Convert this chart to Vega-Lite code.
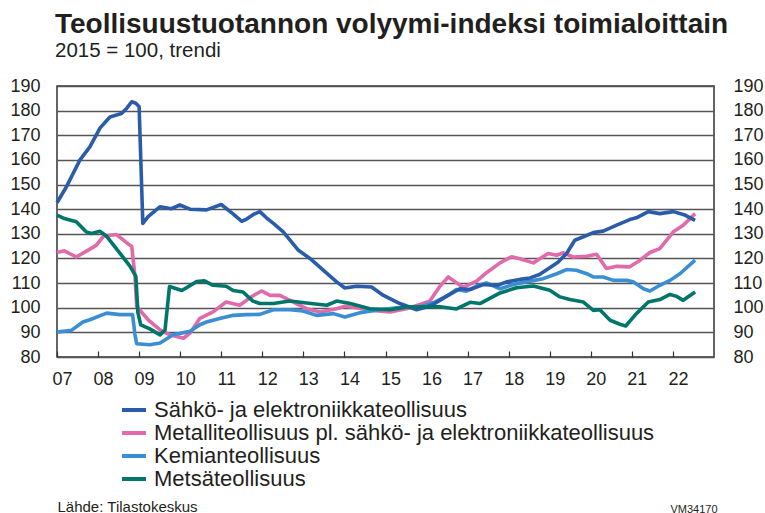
{
  "$schema": "https://vega.github.io/schema/vega-lite/v6.json",
  "width": 657,
  "height": 271,
  "autosize": {"type": "none"},
  "padding": {"left": 57, "top": 86, "right": 51, "bottom": 156},
  "background": "white",
  "title": {
    "text": "Teollisuustuotannon volyymi-indeksi toimialoittain",
    "subtitle": "2015 = 100, trendi",
    "anchor": "start",
    "frame": "group",
    "font": "Liberation Sans",
    "fontSize": 28,
    "fontWeight": "bold",
    "color": "#231f20",
    "subtitleFont": "Liberation Sans",
    "subtitleFontSize": 20.5,
    "subtitleColor": "#231f20",
    "subtitlePadding": 2,
    "offset": 16,
    "dx": -2
  },
  "data": {
    "values": [
      {"s": "Metalliteollisuus pl. sähkö- ja elektroniikkateollisuus", "t": 2007.0, "v": 122.4},
      {"s": "Metalliteollisuus pl. sähkö- ja elektroniikkateollisuus", "t": 2007.18, "v": 123.1},
      {"s": "Metalliteollisuus pl. sähkö- ja elektroniikkateollisuus", "t": 2007.47, "v": 120.6},
      {"s": "Metalliteollisuus pl. sähkö- ja elektroniikkateollisuus", "t": 2007.75, "v": 123.3},
      {"s": "Metalliteollisuus pl. sähkö- ja elektroniikkateollisuus", "t": 2007.96, "v": 125.4},
      {"s": "Metalliteollisuus pl. sähkö- ja elektroniikkateollisuus", "t": 2008.13, "v": 129.0},
      {"s": "Metalliteollisuus pl. sähkö- ja elektroniikkateollisuus", "t": 2008.45, "v": 129.7},
      {"s": "Metalliteollisuus pl. sähkö- ja elektroniikkateollisuus", "t": 2008.7, "v": 126.3},
      {"s": "Metalliteollisuus pl. sähkö- ja elektroniikkateollisuus", "t": 2008.82, "v": 124.9},
      {"s": "Metalliteollisuus pl. sähkö- ja elektroniikkateollisuus", "t": 2008.9, "v": 112.7},
      {"s": "Metalliteollisuus pl. sähkö- ja elektroniikkateollisuus", "t": 2008.94, "v": 100.5},
      {"s": "Metalliteollisuus pl. sähkö- ja elektroniikkateollisuus", "t": 2009.22, "v": 95.1},
      {"s": "Metalliteollisuus pl. sähkö- ja elektroniikkateollisuus", "t": 2009.51, "v": 91.0},
      {"s": "Metalliteollisuus pl. sähkö- ja elektroniikkateollisuus", "t": 2009.75, "v": 89.0},
      {"s": "Metalliteollisuus pl. sähkö- ja elektroniikkateollisuus", "t": 2010.08, "v": 87.6},
      {"s": "Metalliteollisuus pl. sähkö- ja elektroniikkateollisuus", "t": 2010.24, "v": 89.7},
      {"s": "Metalliteollisuus pl. sähkö- ja elektroniikkateollisuus", "t": 2010.48, "v": 95.7},
      {"s": "Metalliteollisuus pl. sähkö- ja elektroniikkateollisuus", "t": 2010.8, "v": 98.3},
      {"s": "Metalliteollisuus pl. sähkö- ja elektroniikkateollisuus", "t": 2011.12, "v": 102.3},
      {"s": "Metalliteollisuus pl. sähkö- ja elektroniikkateollisuus", "t": 2011.45, "v": 101.0},
      {"s": "Metalliteollisuus pl. sähkö- ja elektroniikkateollisuus", "t": 2011.73, "v": 104.4},
      {"s": "Metalliteollisuus pl. sähkö- ja elektroniikkateollisuus", "t": 2011.98, "v": 106.8},
      {"s": "Metalliteollisuus pl. sähkö- ja elektroniikkateollisuus", "t": 2012.19, "v": 105.0},
      {"s": "Metalliteollisuus pl. sähkö- ja elektroniikkateollisuus", "t": 2012.43, "v": 105.0},
      {"s": "Metalliteollisuus pl. sähkö- ja elektroniikkateollisuus", "t": 2012.67, "v": 103.0},
      {"s": "Metalliteollisuus pl. sähkö- ja elektroniikkateollisuus", "t": 2013.08, "v": 99.6},
      {"s": "Metalliteollisuus pl. sähkö- ja elektroniikkateollisuus", "t": 2013.4, "v": 98.3},
      {"s": "Metalliteollisuus pl. sähkö- ja elektroniikkateollisuus", "t": 2013.81, "v": 99.6},
      {"s": "Metalliteollisuus pl. sähkö- ja elektroniikkateollisuus", "t": 2014.01, "v": 100.6},
      {"s": "Metalliteollisuus pl. sähkö- ja elektroniikkateollisuus", "t": 2014.46, "v": 99.6},
      {"s": "Metalliteollisuus pl. sähkö- ja elektroniikkateollisuus", "t": 2014.7, "v": 98.9},
      {"s": "Metalliteollisuus pl. sähkö- ja elektroniikkateollisuus", "t": 2015.11, "v": 98.3},
      {"s": "Metalliteollisuus pl. sähkö- ja elektroniikkateollisuus", "t": 2015.51, "v": 99.6},
      {"s": "Metalliteollisuus pl. sähkö- ja elektroniikkateollisuus", "t": 2015.84, "v": 101.3},
      {"s": "Metalliteollisuus pl. sähkö- ja elektroniikkateollisuus", "t": 2016.08, "v": 102.7},
      {"s": "Metalliteollisuus pl. sähkö- ja elektroniikkateollisuus", "t": 2016.33, "v": 108.8},
      {"s": "Metalliteollisuus pl. sähkö- ja elektroniikkateollisuus", "t": 2016.53, "v": 112.5},
      {"s": "Metalliteollisuus pl. sähkö- ja elektroniikkateollisuus", "t": 2016.73, "v": 110.1},
      {"s": "Metalliteollisuus pl. sähkö- ja elektroniikkateollisuus", "t": 2016.89, "v": 108.3},
      {"s": "Metalliteollisuus pl. sähkö- ja elektroniikkateollisuus", "t": 2017.22, "v": 110.8},
      {"s": "Metalliteollisuus pl. sähkö- ja elektroniikkateollisuus", "t": 2017.46, "v": 114.2},
      {"s": "Metalliteollisuus pl. sähkö- ja elektroniikkateollisuus", "t": 2017.79, "v": 118.2},
      {"s": "Metalliteollisuus pl. sähkö- ja elektroniikkateollisuus", "t": 2018.07, "v": 120.7},
      {"s": "Metalliteollisuus pl. sähkö- ja elektroniikkateollisuus", "t": 2018.27, "v": 119.9},
      {"s": "Metalliteollisuus pl. sähkö- ja elektroniikkateollisuus", "t": 2018.6, "v": 118.2},
      {"s": "Metalliteollisuus pl. sähkö- ja elektroniikkateollisuus", "t": 2018.96, "v": 122.0},
      {"s": "Metalliteollisuus pl. sähkö- ja elektroniikkateollisuus", "t": 2019.17, "v": 121.3},
      {"s": "Metalliteollisuus pl. sähkö- ja elektroniikkateollisuus", "t": 2019.33, "v": 122.3},
      {"s": "Metalliteollisuus pl. sähkö- ja elektroniikkateollisuus", "t": 2019.57, "v": 120.6},
      {"s": "Metalliteollisuus pl. sähkö- ja elektroniikkateollisuus", "t": 2019.9, "v": 120.9},
      {"s": "Metalliteollisuus pl. sähkö- ja elektroniikkateollisuus", "t": 2020.14, "v": 121.7},
      {"s": "Metalliteollisuus pl. sähkö- ja elektroniikkateollisuus", "t": 2020.38, "v": 115.9},
      {"s": "Metalliteollisuus pl. sähkö- ja elektroniikkateollisuus", "t": 2020.63, "v": 116.8},
      {"s": "Metalliteollisuus pl. sähkö- ja elektroniikkateollisuus", "t": 2020.95, "v": 116.6},
      {"s": "Metalliteollisuus pl. sähkö- ja elektroniikkateollisuus", "t": 2021.2, "v": 119.3},
      {"s": "Metalliteollisuus pl. sähkö- ja elektroniikkateollisuus", "t": 2021.44, "v": 122.4},
      {"s": "Metalliteollisuus pl. sähkö- ja elektroniikkateollisuus", "t": 2021.68, "v": 124.0},
      {"s": "Metalliteollisuus pl. sähkö- ja elektroniikkateollisuus", "t": 2022.01, "v": 130.8},
      {"s": "Metalliteollisuus pl. sähkö- ja elektroniikkateollisuus", "t": 2022.25, "v": 133.5},
      {"s": "Metalliteollisuus pl. sähkö- ja elektroniikkateollisuus", "t": 2022.54, "v": 138.2},

      {"s": "Kemianteollisuus", "t": 2007.0, "v": 90.1},
      {"s": "Kemianteollisuus", "t": 2007.35, "v": 90.8},
      {"s": "Kemianteollisuus", "t": 2007.63, "v": 94.2},
      {"s": "Kemianteollisuus", "t": 2007.8, "v": 95.1},
      {"s": "Kemianteollisuus", "t": 2008.21, "v": 97.8},
      {"s": "Kemianteollisuus", "t": 2008.53, "v": 97.2},
      {"s": "Kemianteollisuus", "t": 2008.84, "v": 97.2},
      {"s": "Kemianteollisuus", "t": 2008.9, "v": 89.0},
      {"s": "Kemianteollisuus", "t": 2008.94, "v": 85.4},
      {"s": "Kemianteollisuus", "t": 2009.26, "v": 85.0},
      {"s": "Kemianteollisuus", "t": 2009.51, "v": 85.7},
      {"s": "Kemianteollisuus", "t": 2009.83, "v": 89.0},
      {"s": "Kemianteollisuus", "t": 2010.24, "v": 90.4},
      {"s": "Kemianteollisuus", "t": 2010.48, "v": 93.1},
      {"s": "Kemianteollisuus", "t": 2010.64, "v": 94.2},
      {"s": "Kemianteollisuus", "t": 2010.96, "v": 95.6},
      {"s": "Kemianteollisuus", "t": 2011.29, "v": 96.9},
      {"s": "Kemianteollisuus", "t": 2011.61, "v": 97.2},
      {"s": "Kemianteollisuus", "t": 2011.94, "v": 97.3},
      {"s": "Kemianteollisuus", "t": 2012.27, "v": 99.2},
      {"s": "Kemianteollisuus", "t": 2012.67, "v": 99.2},
      {"s": "Kemianteollisuus", "t": 2012.99, "v": 98.7},
      {"s": "Kemianteollisuus", "t": 2013.32, "v": 96.9},
      {"s": "Kemianteollisuus", "t": 2013.73, "v": 97.6},
      {"s": "Kemianteollisuus", "t": 2014.01, "v": 96.2},
      {"s": "Kemianteollisuus", "t": 2014.38, "v": 98.0},
      {"s": "Kemianteollisuus", "t": 2014.86, "v": 99.2},
      {"s": "Kemianteollisuus", "t": 2015.27, "v": 100.0},
      {"s": "Kemianteollisuus", "t": 2015.84, "v": 100.4},
      {"s": "Kemianteollisuus", "t": 2016.16, "v": 102.0},
      {"s": "Kemianteollisuus", "t": 2016.49, "v": 104.7},
      {"s": "Kemianteollisuus", "t": 2016.73, "v": 107.4},
      {"s": "Kemianteollisuus", "t": 2016.97, "v": 106.7},
      {"s": "Kemianteollisuus", "t": 2017.22, "v": 108.8},
      {"s": "Kemianteollisuus", "t": 2017.46, "v": 110.1},
      {"s": "Kemianteollisuus", "t": 2017.79, "v": 107.7},
      {"s": "Kemianteollisuus", "t": 2018.11, "v": 109.4},
      {"s": "Kemianteollisuus", "t": 2018.52, "v": 110.8},
      {"s": "Kemianteollisuus", "t": 2018.84, "v": 111.8},
      {"s": "Kemianteollisuus", "t": 2019.17, "v": 113.8},
      {"s": "Kemianteollisuus", "t": 2019.41, "v": 115.5},
      {"s": "Kemianteollisuus", "t": 2019.65, "v": 115.2},
      {"s": "Kemianteollisuus", "t": 2019.9, "v": 113.8},
      {"s": "Kemianteollisuus", "t": 2020.06, "v": 112.5},
      {"s": "Kemianteollisuus", "t": 2020.3, "v": 112.5},
      {"s": "Kemianteollisuus", "t": 2020.55, "v": 111.1},
      {"s": "Kemianteollisuus", "t": 2020.87, "v": 111.1},
      {"s": "Kemianteollisuus", "t": 2021.03, "v": 110.5},
      {"s": "Kemianteollisuus", "t": 2021.28, "v": 107.7},
      {"s": "Kemianteollisuus", "t": 2021.44, "v": 106.8},
      {"s": "Kemianteollisuus", "t": 2021.68, "v": 109.1},
      {"s": "Kemianteollisuus", "t": 2021.93, "v": 111.1},
      {"s": "Kemianteollisuus", "t": 2022.17, "v": 113.8},
      {"s": "Kemianteollisuus", "t": 2022.54, "v": 119.3},

      {"s": "Sähkö- ja elektroniikkateollisuus", "t": 2007.0, "v": 142.6},
      {"s": "Sähkö- ja elektroniikkateollisuus", "t": 2007.23, "v": 149.1},
      {"s": "Sähkö- ja elektroniikkateollisuus", "t": 2007.56, "v": 160.0},
      {"s": "Sähkö- ja elektroniikkateollisuus", "t": 2007.8, "v": 165.3},
      {"s": "Sähkö- ja elektroniikkateollisuus", "t": 2008.05, "v": 173.0},
      {"s": "Sähkö- ja elektroniikkateollisuus", "t": 2008.29, "v": 177.4},
      {"s": "Sähkö- ja elektroniikkateollisuus", "t": 2008.57, "v": 178.8},
      {"s": "Sähkö- ja elektroniikkateollisuus", "t": 2008.7, "v": 181.0},
      {"s": "Sähkö- ja elektroniikkateollisuus", "t": 2008.82, "v": 183.6},
      {"s": "Sähkö- ja elektroniikkateollisuus", "t": 2008.92, "v": 183.0},
      {"s": "Sähkö- ja elektroniikkateollisuus", "t": 2009.0, "v": 181.6},
      {"s": "Sähkö- ja elektroniikkateollisuus", "t": 2009.09, "v": 134.2},
      {"s": "Sähkö- ja elektroniikkateollisuus", "t": 2009.22, "v": 137.0},
      {"s": "Sähkö- ja elektroniikkateollisuus", "t": 2009.51, "v": 141.0},
      {"s": "Sähkö- ja elektroniikkateollisuus", "t": 2009.79, "v": 140.2},
      {"s": "Sähkö- ja elektroniikkateollisuus", "t": 2009.99, "v": 141.7},
      {"s": "Sähkö- ja elektroniikkateollisuus", "t": 2010.24, "v": 140.0},
      {"s": "Sähkö- ja elektroniikkateollisuus", "t": 2010.64, "v": 139.7},
      {"s": "Sähkö- ja elektroniikkateollisuus", "t": 2011.0, "v": 141.9},
      {"s": "Sähkö- ja elektroniikkateollisuus", "t": 2011.28, "v": 138.2},
      {"s": "Sähkö- ja elektroniikkateollisuus", "t": 2011.5, "v": 135.1},
      {"s": "Sähkö- ja elektroniikkateollisuus", "t": 2011.62, "v": 136.0},
      {"s": "Sähkö- ja elektroniikkateollisuus", "t": 2011.8, "v": 138.0},
      {"s": "Sähkö- ja elektroniikkateollisuus", "t": 2011.94, "v": 139.0},
      {"s": "Sähkö- ja elektroniikkateollisuus", "t": 2012.1, "v": 136.5},
      {"s": "Sähkö- ja elektroniikkateollisuus", "t": 2012.27, "v": 134.2},
      {"s": "Sähkö- ja elektroniikkateollisuus", "t": 2012.51, "v": 130.8},
      {"s": "Sähkö- ja elektroniikkateollisuus", "t": 2012.88, "v": 123.3},
      {"s": "Sähkö- ja elektroniikkateollisuus", "t": 2013.16, "v": 120.0},
      {"s": "Sähkö- ja elektroniikkateollisuus", "t": 2013.49, "v": 115.2},
      {"s": "Sähkö- ja elektroniikkateollisuus", "t": 2013.81, "v": 110.5},
      {"s": "Sähkö- ja elektroniikkateollisuus", "t": 2014.01, "v": 108.0},
      {"s": "Sähkö- ja elektroniikkateollisuus", "t": 2014.3, "v": 108.7},
      {"s": "Sähkö- ja elektroniikkateollisuus", "t": 2014.66, "v": 108.4},
      {"s": "Sähkö- ja elektroniikkateollisuus", "t": 2014.95, "v": 105.0},
      {"s": "Sähkö- ja elektroniikkateollisuus", "t": 2015.35, "v": 101.7},
      {"s": "Sähkö- ja elektroniikkateollisuus", "t": 2015.76, "v": 99.2},
      {"s": "Sähkö- ja elektroniikkateollisuus", "t": 2016.0, "v": 100.3},
      {"s": "Sähkö- ja elektroniikkateollisuus", "t": 2016.16, "v": 101.3},
      {"s": "Sähkö- ja elektroniikkateollisuus", "t": 2016.49, "v": 104.7},
      {"s": "Sähkö- ja elektroniikkateollisuus", "t": 2016.81, "v": 107.7},
      {"s": "Sähkö- ja elektroniikkateollisuus", "t": 2017.06, "v": 107.4},
      {"s": "Sähkö- ja elektroniikkateollisuus", "t": 2017.38, "v": 109.4},
      {"s": "Sähkö- ja elektroniikkateollisuus", "t": 2017.71, "v": 109.0},
      {"s": "Sähkö- ja elektroniikkateollisuus", "t": 2017.95, "v": 110.5},
      {"s": "Sähkö- ja elektroniikkateollisuus", "t": 2018.27, "v": 111.5},
      {"s": "Sähkö- ja elektroniikkateollisuus", "t": 2018.52, "v": 112.1},
      {"s": "Sähkö- ja elektroniikkateollisuus", "t": 2018.75, "v": 113.5},
      {"s": "Sähkö- ja elektroniikkateollisuus", "t": 2019.0, "v": 116.2},
      {"s": "Sähkö- ja elektroniikkateollisuus", "t": 2019.2, "v": 118.5},
      {"s": "Sähkö- ja elektroniikkateollisuus", "t": 2019.41, "v": 122.0},
      {"s": "Sähkö- ja elektroniikkateollisuus", "t": 2019.61, "v": 127.4},
      {"s": "Sähkö- ja elektroniikkateollisuus", "t": 2019.82, "v": 128.8},
      {"s": "Sähkö- ja elektroniikkateollisuus", "t": 2020.06, "v": 130.5},
      {"s": "Sähkö- ja elektroniikkateollisuus", "t": 2020.3, "v": 131.1},
      {"s": "Sähkö- ja elektroniikkateollisuus", "t": 2020.63, "v": 133.5},
      {"s": "Sähkö- ja elektroniikkateollisuus", "t": 2020.95, "v": 135.8},
      {"s": "Sähkö- ja elektroniikkateollisuus", "t": 2021.11, "v": 136.5},
      {"s": "Sähkö- ja elektroniikkateollisuus", "t": 2021.4, "v": 139.0},
      {"s": "Sähkö- ja elektroniikkateollisuus", "t": 2021.68, "v": 138.2},
      {"s": "Sähkö- ja elektroniikkateollisuus", "t": 2022.01, "v": 139.0},
      {"s": "Sähkö- ja elektroniikkateollisuus", "t": 2022.29, "v": 137.6},
      {"s": "Sähkö- ja elektroniikkateollisuus", "t": 2022.54, "v": 135.5},

      {"s": "Metsäteollisuus", "t": 2007.0, "v": 137.6},
      {"s": "Metsäteollisuus", "t": 2007.18, "v": 136.2},
      {"s": "Metsäteollisuus", "t": 2007.47, "v": 134.9},
      {"s": "Metsäteollisuus", "t": 2007.71, "v": 130.8},
      {"s": "Metsäteollisuus", "t": 2007.84, "v": 130.1},
      {"s": "Metsäteollisuus", "t": 2008.05, "v": 131.0},
      {"s": "Metsäteollisuus", "t": 2008.21, "v": 129.0},
      {"s": "Metsäteollisuus", "t": 2008.53, "v": 122.2},
      {"s": "Metsäteollisuus", "t": 2008.78, "v": 116.8},
      {"s": "Metsäteollisuus", "t": 2008.92, "v": 112.7},
      {"s": "Metsäteollisuus", "t": 2008.97, "v": 98.0},
      {"s": "Metsäteollisuus", "t": 2009.04, "v": 93.0},
      {"s": "Metsäteollisuus", "t": 2009.26, "v": 91.4},
      {"s": "Metsäteollisuus", "t": 2009.51, "v": 89.0},
      {"s": "Metsäteollisuus", "t": 2009.63, "v": 90.9},
      {"s": "Metsäteollisuus", "t": 2009.74, "v": 108.6},
      {"s": "Metsäteollisuus", "t": 2010.04, "v": 107.0},
      {"s": "Metsäteollisuus", "t": 2010.4, "v": 110.6},
      {"s": "Metsäteollisuus", "t": 2010.59, "v": 110.9},
      {"s": "Metsäteollisuus", "t": 2010.8, "v": 109.1},
      {"s": "Metsäteollisuus", "t": 2011.12, "v": 108.7},
      {"s": "Metsäteollisuus", "t": 2011.29, "v": 107.0},
      {"s": "Metsäteollisuus", "t": 2011.53, "v": 106.4},
      {"s": "Metsäteollisuus", "t": 2011.77, "v": 102.7},
      {"s": "Metsäteollisuus", "t": 2011.94, "v": 101.7},
      {"s": "Metsäteollisuus", "t": 2012.27, "v": 101.7},
      {"s": "Metsäteollisuus", "t": 2012.67, "v": 102.7},
      {"s": "Metsäteollisuus", "t": 2013.08, "v": 101.9},
      {"s": "Metsäteollisuus", "t": 2013.57, "v": 101.0},
      {"s": "Metsäteollisuus", "t": 2013.81, "v": 102.7},
      {"s": "Metsäteollisuus", "t": 2014.14, "v": 101.7},
      {"s": "Metsäteollisuus", "t": 2014.62, "v": 99.6},
      {"s": "Metsäteollisuus", "t": 2015.11, "v": 99.2},
      {"s": "Metsäteollisuus", "t": 2015.51, "v": 100.3},
      {"s": "Metsäteollisuus", "t": 2016.0, "v": 100.4},
      {"s": "Metsäteollisuus", "t": 2016.33, "v": 100.4},
      {"s": "Metsäteollisuus", "t": 2016.73, "v": 99.5},
      {"s": "Metsäteollisuus", "t": 2017.06, "v": 102.2},
      {"s": "Metsäteollisuus", "t": 2017.3, "v": 101.7},
      {"s": "Metsäteollisuus", "t": 2017.79, "v": 106.0},
      {"s": "Metsäteollisuus", "t": 2018.19, "v": 108.1},
      {"s": "Metsäteollisuus", "t": 2018.6, "v": 108.8},
      {"s": "Metsäteollisuus", "t": 2019.0, "v": 107.1},
      {"s": "Metsäteollisuus", "t": 2019.25, "v": 104.4},
      {"s": "Metsäteollisuus", "t": 2019.49, "v": 103.3},
      {"s": "Metsäteollisuus", "t": 2019.82, "v": 102.3},
      {"s": "Metsäteollisuus", "t": 2020.06, "v": 98.9},
      {"s": "Metsäteollisuus", "t": 2020.22, "v": 99.2},
      {"s": "Metsäteollisuus", "t": 2020.47, "v": 94.9},
      {"s": "Metsäteollisuus", "t": 2020.71, "v": 93.3},
      {"s": "Metsäteollisuus", "t": 2020.85, "v": 92.6},
      {"s": "Metsäteollisuus", "t": 2021.11, "v": 97.6},
      {"s": "Metsäteollisuus", "t": 2021.4, "v": 102.3},
      {"s": "Metsäteollisuus", "t": 2021.68, "v": 103.3},
      {"s": "Metsäteollisuus", "t": 2021.93, "v": 105.4},
      {"s": "Metsäteollisuus", "t": 2022.09, "v": 104.6},
      {"s": "Metsäteollisuus", "t": 2022.25, "v": 103.0},
      {"s": "Metsäteollisuus", "t": 2022.54, "v": 106.4}
    ]
  },
  "layer": [
    {
      "mark": {"type": "line", "strokeWidth": 3.6, "strokeJoin": "round", "strokeCap": "butt"},
      "encoding": {
        "x": {
          "field": "t", "type": "quantitative",
          "scale": {"domain": [2007, 2023], "nice": false, "zero": false},
          "axis": {
            "values": [2007, 2008, 2009, 2010, 2011, 2012, 2013, 2014, 2015, 2016, 2017, 2018, 2019, 2020, 2021, 2022],
            "labelExpr": "substring(toString(datum.value), 2)",
            "labelFlush": false, "labelOverlap": false,
            "grid": false, "domain": false,
            "ticks": true, "tickSize": -6, "tickColor": "#333", "tickWidth": 1.2,
            "labelPadding": 19, "labelOffset": 5, "labelFontSize": 18,
            "title": null
          }
        },
        "y": {
          "field": "v", "type": "quantitative",
          "scale": {"domain": [80, 190], "nice": false, "zero": false},
          "axis": {
            "values": [80, 90, 100, 110, 120, 130, 140, 150, 160, 170, 180, 190],
            "grid": true, "gridColor": "#555", "gridWidth": 1.4,
            "ticks": false, "domain": false,
            "labelPadding": 17, "labelFontSize": 18,
            "title": "Lähde: Tilastokeskus",
            "titleAngle": 0, "titleAlign": "left", "titleBaseline": "alphabetic",
            "titleX": 0, "titleY": 425,
            "titleFont": "Liberation Sans", "titleFontSize": 15, "titleFontWeight": "normal", "titleColor": "#231f20"
          }
        },
        "color": {
          "field": "s", "type": "nominal",
          "scale": {
            "domain": ["Sähkö- ja elektroniikkateollisuus", "Metalliteollisuus pl. sähkö- ja elektroniikkateollisuus", "Kemianteollisuus", "Metsäteollisuus"],
            "range": ["#2a5caa", "#e06aaa", "#3a8fd4", "#00766a"]
          },
          "legend": {
            "orient": "none", "legendX": 66, "legendY": 313,
            "title": null, "padding": 0,
            "symbolType": "M-2,0H2", "symbolSize": 144, "symbolStrokeWidth": 4,
            "labelFont": "Liberation Sans", "labelFontSize": 22, "labelColor": "#231f20",
            "labelOffset": 9, "rowPadding": 1, "labelLimit": 600
          }
        }
      }
    },
    {
      "mark": {"type": "line", "opacity": 0},
      "encoding": {
        "x": {"field": "t", "type": "quantitative", "scale": {"domain": [2007, 2023], "nice": false, "zero": false}},
        "y": {
          "field": "v", "type": "quantitative",
          "scale": {"domain": [80, 190], "nice": false, "zero": false},
          "axis": {
            "orient": "right",
            "values": [80, 90, 100, 110, 120, 130, 140, 150, 160, 170, 180, 190],
            "grid": false, "ticks": false, "domain": false,
            "labelPadding": 19, "labelFontSize": 18,
            "title": "VM34170",
            "titleAngle": 0, "titleAlign": "left", "titleBaseline": "alphabetic",
            "titleX": -44, "titleY": 426,
            "titleFont": "Liberation Sans", "titleFontSize": 11, "titleFontWeight": "normal", "titleColor": "#231f20"
          }
        },
        "detail": {"field": "s"}
      }
    }
  ],
  "resolve": {"axis": {"y": "independent"}},
  "config": {
    "view": {"stroke": "#333", "strokeWidth": 1.5},
    "axis": {"labelFont": "Liberation Sans", "labelColor": "#231f20"}
  }
}
